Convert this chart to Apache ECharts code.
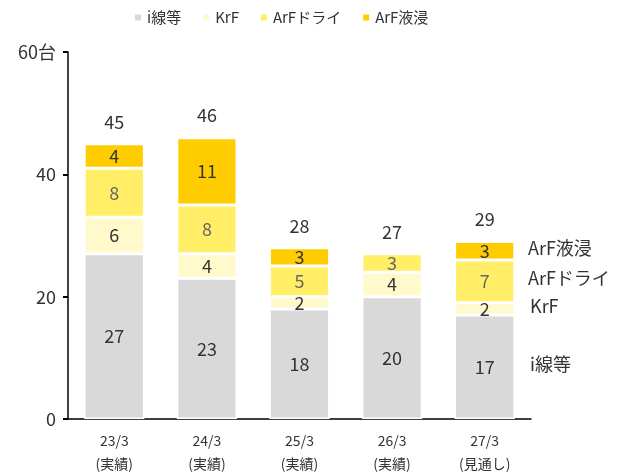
<!DOCTYPE html>
<html>
<head>
<meta charset="utf-8">
<script src="https://cdn.jsdelivr.net/npm/echarts@6/dist/echarts.min.js"></script>
<style>
  body { margin: 0; background: #fff; }
  #chart { width: 628px; height: 475px; }
</style>
</head>
<body>
<div id="chart"></div>
<script>
  // 年度（2行ラベル）
  const categories = ['23/3\n(実績)', '24/3\n(実績)', '25/3\n(実績)', '26/3\n(実績)', '27/3\n(見通し)'];
  const seriesNames = ['i線等', 'KrF', 'ArFドライ', 'ArF液浸'];
  const iLine = [27, 23, 18, 20, 17];
  const krf = [6, 4, 2, 4, 2];
  const arfDry = [8, 8, 5, 3, 7];
  const arfImm = [4, 11, 3, 0, 3];
  const totals = [45, 46, 28, 27, 29];
  const yTicks = [0, 20, 40, 60];

  const FONT = '"Noto Sans CJK JP", sans-serif';
  const colors = ['#d9d9d9', '#fff9cc', '#ffee66', '#ffcc00'];
  const labelColors = ['#333', '#333', '#666', '#333'];
  const values = [iLine, krf, arfDry, arfImm];

  const chart = echarts.init(document.getElementById('chart'));

  const series = values.map((data, i) => ({
    name: seriesNames[i],
    type: 'bar',
    stack: 'total',
    barWidth: '65%',
    data: data,
    itemStyle: { color: colors[i], borderColor: '#fff', borderWidth: 1.5 },
    label: {
      show: true,
      position: 'inside',
      fontFamily: FONT,
      fontSize: 18,
      color: labelColors[i],
      formatter: p => (p.value ? p.value : '')
    }
  }));

  // 合計ラベル用の透明系列
  series.push({
    name: '合計',
    type: 'bar',
    stack: 'total',
    data: totals.map(() => 0),
    itemStyle: { color: 'transparent' },
    label: {
      show: true,
      position: 'top',
      distance: 13,
      fontFamily: FONT,
      fontSize: 18,
      color: '#333',
      formatter: p => totals[p.dataIndex]
    },
    silent: true
  });

  chart.setOption({
    animation: false,
    textStyle: { fontFamily: FONT },
    legend: {
      data: seriesNames,
      top: 5,
      left: 128,
      itemWidth: 8,
      itemHeight: 8,
      itemGap: 20,
      icon: 'rect',
      textStyle: { fontFamily: FONT, fontSize: 15, color: '#333' }
    },
    grid: { left: 68, right: 97, top: 52, bottom: 55 },
    xAxis: {
      type: 'category',
      data: categories,
      axisLine: { lineStyle: { color: '#000', width: 1.5 } },
      axisTick: { show: false },
      axisLabel: { fontFamily: FONT, fontSize: 14, color: '#333', lineHeight: 23, margin: 10 }
    },
    yAxis: {
      type: 'value',
      min: 0,
      max: 60,
      interval: 20,
      splitLine: { show: false },
      axisLine: { show: true, lineStyle: { color: '#000', width: 1.5 } },
      axisTick: { show: true, length: 5, lineStyle: { color: '#000', width: 2 } },
      axisLabel: {
        fontFamily: FONT,
        fontSize: 18,
        color: '#333',
        margin: 12,
        formatter: v => (v === yTicks[yTicks.length - 1] ? v + '台' : v)
      }
    },
    series: series
  });

  // 右側の系列名ラベル（最後の棒の各区間の中心に合わせる）
  const last = categories.length - 1;
  const texts = [];
  let base = 0;
  values.forEach((data, i) => {
    const mid = base + data[last] / 2;
    base += data[last];
    const pt = chart.convertToPixel({ gridIndex: 0 }, [last, mid]);
    texts.push({
      type: 'text',
      left: i < 2 ? 530 : 528,
      top: pt[1] - 12,
      style: { text: seriesNames[i], fontFamily: FONT, fontSize: 18, fill: '#333' }
    });
  });
  chart.setOption({ graphic: texts });
</script>
</body>
</html>
